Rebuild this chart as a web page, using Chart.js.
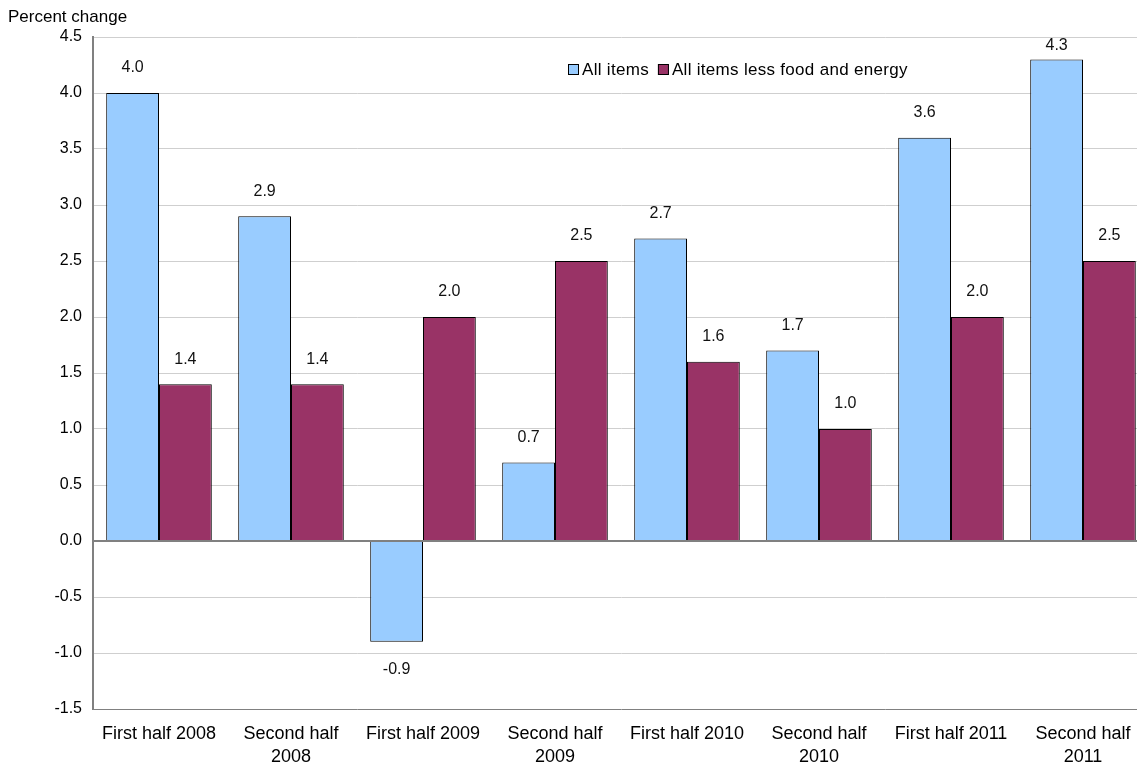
<!DOCTYPE html>
<html>
<head>
<meta charset="utf-8">
<script src="https://cdn.jsdelivr.net/npm/chart.js@4"></script>
<style>
  html, body { margin: 0; padding: 0; background: #fff; overflow: hidden; }
  /* o gráfico original continua além da borda direita */
  #wrap { width: 1150px; height: 765px; }
</style>
</head>
<body>
<div id="wrap"><canvas id="chart"></canvas></div>
<script>
// dados
const categories = [
  "First half 2008", ["Second half", "2008"], "First half 2009", ["Second half", "2009"],
  "First half 2010", ["Second half", "2010"], "First half 2011", ["Second half", "2011"]
];
const allItems = [4.0, 2.9, -0.9, 0.7, 2.7, 1.7, 3.6, 4.3];
const coreItems = [1.4, 1.4, 2.0, 2.5, 1.6, 1.0, 2.0, 2.5];
const seriesNames = ["All items", "All items less food and energy"];
const yTitle = "Percent change";

const FONT = "'Liberation Sans', Arial, sans-serif";

// rótulos de valor acima/abaixo das barras
const valueLabels = {
  id: "valueLabels",
  afterDatasetsDraw(chart) {
    const ctx = chart.ctx;
    const top = chart.chartArea.top;
    ctx.save();
    ctx.font = "16px " + FONT;
    ctx.fillStyle = "#111";
    ctx.textAlign = "center";
    ctx.textBaseline = "middle";
    chart.data.datasets.forEach((ds, i) => {
      chart.getDatasetMeta(i).data.forEach((bar, j) => {
        const v = ds.data[j];
        let y = v >= 0 ? bar.y - 25 : bar.y + 28;
        if (y < top + 9) y = top + 9;
        ctx.fillText(v.toFixed(1), bar.x, y);
      });
    });
    ctx.restore();
  }
};

// legenda e título do eixo desenhados à mão
const extras = {
  id: "extras",
  afterDraw(chart) {
    const ctx = chart.ctx;
    ctx.save();
    ctx.font = "17px " + FONT;
    ctx.fillStyle = "#000";
    ctx.textBaseline = "middle";
    ctx.textAlign = "left";
    ctx.fillText(yTitle, 8, 17);

    ctx.letterSpacing = "0.3px";
    let x = 568;
    const y = 70;
    chart.data.datasets.forEach((ds) => {
      ctx.fillStyle = ds.backgroundColor;
      ctx.fillRect(x, y - 6, 11, 11);
      ctx.strokeStyle = "#000";
      ctx.lineWidth = 1;
      ctx.strokeRect(x + 0.5, y - 5.5, 10, 10);
      ctx.fillStyle = "#000";
      ctx.fillText(ds.label, x + 14, y);
      x += 14 + ctx.measureText(ds.label).width + 9;
    });
    ctx.restore();
  }
};

new Chart(document.getElementById("chart"), {
  type: "bar",
  data: {
    labels: categories,
    datasets: [
      { label: seriesNames[0], data: allItems, backgroundColor: "#99CCFF", borderColor: "#000", borderWidth: 1 },
      { label: seriesNames[1], data: coreItems, backgroundColor: "#993366", borderColor: "#000", borderWidth: 1 }
    ]
  },
  options: {
    responsive: true,
    maintainAspectRatio: false,
    animation: false,
    layout: { padding: { left: 0, top: 37, right: 1, bottom: 0 } },
    datasets: { bar: { categoryPercentage: 0.8, barPercentage: 1.0 } },
    plugins: { legend: { display: false }, tooltip: { enabled: false } },
    scales: {
      x: {
        grid: { display: false, drawTicks: false },
        border: { display: false },
        ticks: { color: "#000", font: { family: FONT, size: 18, lineHeight: 1.3 }, padding: 13, maxRotation: 0 },
        afterFit(scale) { scale.height = 56; }
      },
      y: {
        min: -1.5, max: 4.5,
        grid: {
          drawTicks: false,
          color: (c) => (c.tick && (c.tick.value === 0 || c.tick.value === -1.5)) ? "#808080" : "#cfcfcf",
          lineWidth: (c) => (c.tick && c.tick.value === 0) ? 2 : 1
        },
        border: { display: true, color: "#808080", width: 2 },
        ticks: {
          stepSize: 0.5, color: "#000", padding: 11,
          font: { family: FONT, size: 16 },
          callback: (v) => Number(v).toFixed(1)
        },
        afterFit(scale) { scale.width = 93; }
      }
    }
  },
  plugins: [valueLabels, extras]
});
</script>
</body>
</html>
